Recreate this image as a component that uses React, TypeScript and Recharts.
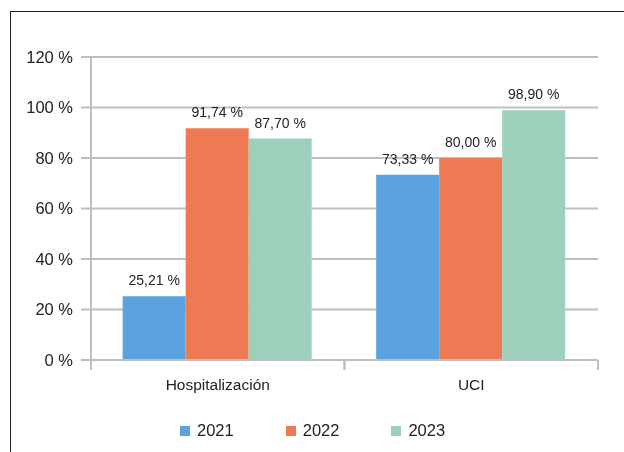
import { Bar, BarChart, CartesianGrid, LabelList, Legend, XAxis, YAxis } from "recharts";

const categories = ["Hospitalización", "UCI"];
const values2021 = [25.21, 73.33];
const values2022 = [91.74, 80.0];
const values2023 = [87.7, 98.9];
const yTicks = [0, 20, 40, 60, 80, 100, 120];

const data = categories.map((name, i) => ({
  name,
  y2021: values2021[i],
  y2022: values2022[i],
  y2023: values2023[i],
}));

const FONT = "'Liberation Sans', Arial, sans-serif";
const GRID = "#bfbfbf";

const series = [
  { key: "y2021", label: "2021", color: "#5ba3de" },
  { key: "y2022", label: "2022", color: "#ee7a53" },
  { key: "y2023", label: "2023", color: "#9dd0bb" },
];

const fmt = (v: any) => `${Number(v).toFixed(2).replace(".", ",")} %`;

// category label plus Excel-style ticks at the band edges
function CategoryTick(props: any) {
  const { x, y, payload } = props;
  const half = payload.offset || 0;
  const y0 = y - 16;
  return (
    <g>
      <line x1={x - half} x2={x - half} y1={y0} y2={y0 + 10} stroke={GRID} strokeWidth={2} />
      <line x1={x + half} x2={x + half} y1={y0} y2={y0 + 10} stroke={GRID} strokeWidth={2} />
      <text x={x} y={y} dy={14} textAnchor="middle" fontSize={15.5} fill="#222" fontFamily={FONT}>
        {payload.value}
      </text>
    </g>
  );
}

function LegendContent() {
  return (
    <div style={{ display: "flex", justifyContent: "flex-start", paddingLeft: 172, fontFamily: FONT, fontSize: 16.5, color: "#222" }}>
      {series.map((s, i) => (
        <div key={s.key} style={{ display: "flex", alignItems: "center", marginRight: i < 2 ? 52 : 0 }}>
          <span style={{ display: "inline-block", width: 10, height: 10, background: s.color, marginRight: 7 }} />
          <span>{s.label}</span>
        </div>
      ))}
    </div>
  );
}

export default function App() {
  return (
    <div style={{ position: "relative", width: 616, height: 436 }}>
      <div
        style={{
          position: "fixed",
          left: 10,
          top: 11,
          width: 700,
          height: 600,
          border: "1px solid #222",
          boxSizing: "border-box",
        }}
      />
      <div style={{ position: "absolute", left: 0, top: 0 }}>
        <BarChart
          width={616}
          height={436}
          data={data}
          margin={{ top: 49, right: 26, left: 0, bottom: 0 }}
          barCategoryGap="12.5%"
          barGap={0}
        >
          <CartesianGrid horizontal vertical={false} stroke={GRID} strokeWidth={2} />
          <XAxis
            dataKey="name"
            height={84}
            axisLine={{ stroke: GRID, strokeWidth: 2 }}
            tickLine={false}
            tickSize={10}
            tickMargin={6}
            tick={<CategoryTick />}
            interval={0}
          />
          <YAxis
            width={83}
            domain={[0, 120]}
            ticks={yTicks}
            interval={0}
            tickFormatter={(v) => `${v} %`}
            axisLine={{ stroke: GRID, strokeWidth: 2 }}
            tickLine={{ stroke: GRID, strokeWidth: 2 }}
            tickSize={10}
            tickMargin={8}
            tick={{ fontSize: 16.5, fill: "#222", fontFamily: FONT }}
          />
          <YAxis
            yAxisId="right"
            orientation="right"
            width={0}
            domain={[0, 120]}
            tick={false}
            tickLine={false}
            axisLine={{ stroke: GRID, strokeWidth: 2 }}
          />
          {series.map((s) => (
            <Bar key={s.key} dataKey={s.key} name={s.label} fill={s.color} isAnimationActive={false}>
              <LabelList
                dataKey={s.key}
                position="top"
                offset={11}
                formatter={fmt}
                style={{ fontSize: 14, fill: "#222", fontFamily: FONT }}
              />
            </Bar>
          ))}
          <Legend
            verticalAlign="middle"
            layout="horizontal"
            content={<LegendContent />}
            wrapperStyle={{ top: 413, left: 0, width: 616, bottom: "auto" }}
          />
        </BarChart>
      </div>
    </div>
  );
}
